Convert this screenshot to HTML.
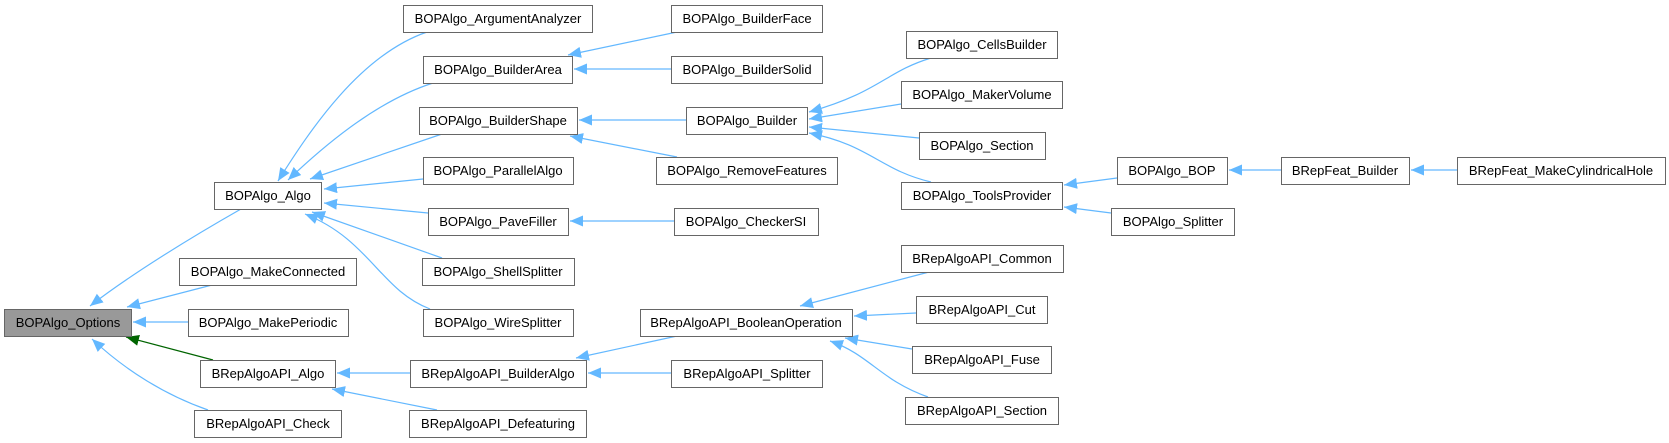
<!DOCTYPE html>
<html><head><meta charset="utf-8"><style>
html,body{margin:0;padding:0;background:#fff;}
body{width:1669px;height:443px;position:relative;overflow:hidden;font-family:"Liberation Sans",Arial,sans-serif;}
svg{position:absolute;left:0;top:0;}
</style></head><body>
<svg width="1669" height="443" viewBox="0 0 1669 443" xmlns="http://www.w3.org/2000/svg">
<defs>
<marker id="a" markerUnits="userSpaceOnUse" markerWidth="14" markerHeight="12" refX="13" refY="5.5" orient="auto"><path d="M0,0 L13,5.5 L0,11 z" fill="#63b8ff"/></marker>
<marker id="g" markerUnits="userSpaceOnUse" markerWidth="14" markerHeight="12" refX="13" refY="5.5" orient="auto"><path d="M0,0 L13,5.5 L0,11 z" fill="#006400"/></marker>
</defs>
<g fill="none" stroke="#63b8ff" stroke-width="1.2" marker-end="url(#a)">
<!-- Options -->
<path d="M241,209 C190,238 130,275 90,306"/>
<path d="M212,285 L127,307"/>
<path d="M188,322 L133,322"/>
<path d="M208,410 C165,395 125,370 92,339"/>
<!-- Algo -->
<path d="M427,32 C360,55 310,130 278,181"/>
<path d="M433,83 C380,100 330,140 288,180"/>
<path d="M442,134 L310,179"/>
<path d="M423,179 L324,189"/>
<path d="M428,213 L324,203"/>
<path d="M442,258 L312,212"/>
<path d="M430,309 C380,290 370,240 305,214"/>
<!-- BuilderArea -->
<path d="M677,32 L568,55"/>
<path d="M671,69 L574,69"/>
<!-- BuilderShape -->
<path d="M686,120 L579,120"/>
<path d="M677,157 L570,136"/>
<!-- PaveFiller -->
<path d="M674,221 L570,221"/>
<!-- BRepAlgoAPI_Algo -->
<path d="M410,373 L337,373"/>
<path d="M437,410 L332,389"/>
<!-- BuilderAlgo -->
<path d="M677,336 L576,358"/>
<path d="M671,373 L588,373"/>
<!-- Builder -->
<path d="M931,58 C885,72 880,92 809,112"/>
<path d="M901,104 L809,119"/>
<path d="M919,138 L809,127"/>
<path d="M931,182 C880,170 870,145 809,133"/>
<!-- ToolsProvider -->
<path d="M1117,178 L1064,185"/>
<path d="M1111,213 L1064,207"/>
<path d="M1281,170 L1229,170"/>
<path d="M1457,170 L1411,170"/>
<!-- BooleanOperation -->
<path d="M929,272 L800,306"/>
<path d="M916,313 L854,316"/>
<path d="M912,349 L845,338"/>
<path d="M928,397 C880,380 870,355 830,341"/>
</g>
<path d="M213,360 L126,337" fill="none" stroke="#006400" stroke-width="1.2" marker-end="url(#g)"/>
<g stroke="#666" stroke-width="1" fill="#fff">
<rect x="4.5" y="309.5" width="127" height="27" fill="#999"/>
<rect x="214.5" y="182.5" width="107" height="27"/>
<rect x="179.5" y="258.5" width="177" height="27"/>
<rect x="188.5" y="309.5" width="160" height="27"/>
<rect x="200.5" y="360.5" width="135" height="27"/>
<rect x="194.5" y="410.5" width="147" height="27"/>
<rect x="403.5" y="5.5" width="189" height="27"/>
<rect x="423.5" y="56.5" width="149" height="27"/>
<rect x="419.5" y="107.5" width="158" height="27"/>
<rect x="423.5" y="157.5" width="150" height="27"/>
<rect x="428.5" y="208.5" width="140" height="27"/>
<rect x="422.5" y="258.5" width="152" height="27"/>
<rect x="423.5" y="309.5" width="150" height="27"/>
<rect x="410.5" y="360.5" width="176" height="27"/>
<rect x="409.5" y="410.5" width="177" height="27"/>
<rect x="671.5" y="5.5" width="151" height="27"/>
<rect x="671.5" y="56.5" width="151" height="27"/>
<rect x="686.5" y="107.5" width="121" height="27"/>
<rect x="656.5" y="157.5" width="181" height="27"/>
<rect x="674.5" y="208.5" width="144" height="27"/>
<rect x="640.5" y="309.5" width="212" height="27"/>
<rect x="671.5" y="360.5" width="151" height="27"/>
<rect x="906.5" y="31.5" width="151" height="27"/>
<rect x="901.5" y="81.5" width="161" height="27"/>
<rect x="919.5" y="132.5" width="126" height="27"/>
<rect x="901.5" y="182.5" width="161" height="27"/>
<rect x="901.5" y="245.5" width="162" height="27"/>
<rect x="916.5" y="296.5" width="131" height="27"/>
<rect x="912.5" y="346.5" width="139" height="27"/>
<rect x="905.5" y="397.5" width="153" height="27"/>
<rect x="1117.5" y="157.5" width="110" height="27"/>
<rect x="1281.5" y="157.5" width="128" height="27"/>
<rect x="1457.5" y="157.5" width="208" height="27"/>
<rect x="1111.5" y="208.5" width="123" height="27"/>
</g>
<g font-family="Liberation Sans, Arial, sans-serif" font-size="13" fill="#000" text-anchor="middle">
<text x="68" y="327">BOPAlgo_Options</text>
<text x="268" y="200">BOPAlgo_Algo</text>
<text x="268" y="276">BOPAlgo_MakeConnected</text>
<text x="268" y="327">BOPAlgo_MakePeriodic</text>
<text x="268" y="378">BRepAlgoAPI_Algo</text>
<text x="268" y="428">BRepAlgoAPI_Check</text>
<text x="498" y="23">BOPAlgo_ArgumentAnalyzer</text>
<text x="498" y="74">BOPAlgo_BuilderArea</text>
<text x="498" y="125">BOPAlgo_BuilderShape</text>
<text x="498" y="175">BOPAlgo_ParallelAlgo</text>
<text x="498" y="226">BOPAlgo_PaveFiller</text>
<text x="498" y="276">BOPAlgo_ShellSplitter</text>
<text x="498" y="327">BOPAlgo_WireSplitter</text>
<text x="498" y="378">BRepAlgoAPI_BuilderAlgo</text>
<text x="498" y="428">BRepAlgoAPI_Defeaturing</text>
<text x="747" y="23">BOPAlgo_BuilderFace</text>
<text x="747" y="74">BOPAlgo_BuilderSolid</text>
<text x="747" y="125">BOPAlgo_Builder</text>
<text x="747" y="175">BOPAlgo_RemoveFeatures</text>
<text x="746" y="226">BOPAlgo_CheckerSI</text>
<text x="746" y="327">BRepAlgoAPI_BooleanOperation</text>
<text x="747" y="378">BRepAlgoAPI_Splitter</text>
<text x="982" y="49">BOPAlgo_CellsBuilder</text>
<text x="982" y="99">BOPAlgo_MakerVolume</text>
<text x="982" y="150">BOPAlgo_Section</text>
<text x="982" y="200">BOPAlgo_ToolsProvider</text>
<text x="982" y="263">BRepAlgoAPI_Common</text>
<text x="982" y="314">BRepAlgoAPI_Cut</text>
<text x="982" y="364">BRepAlgoAPI_Fuse</text>
<text x="982" y="415">BRepAlgoAPI_Section</text>
<text x="1172" y="175">BOPAlgo_BOP</text>
<text x="1345" y="175">BRepFeat_Builder</text>
<text x="1561" y="175">BRepFeat_MakeCylindricalHole</text>
<text x="1173" y="226">BOPAlgo_Splitter</text>
</g>
</svg>
</body></html>
